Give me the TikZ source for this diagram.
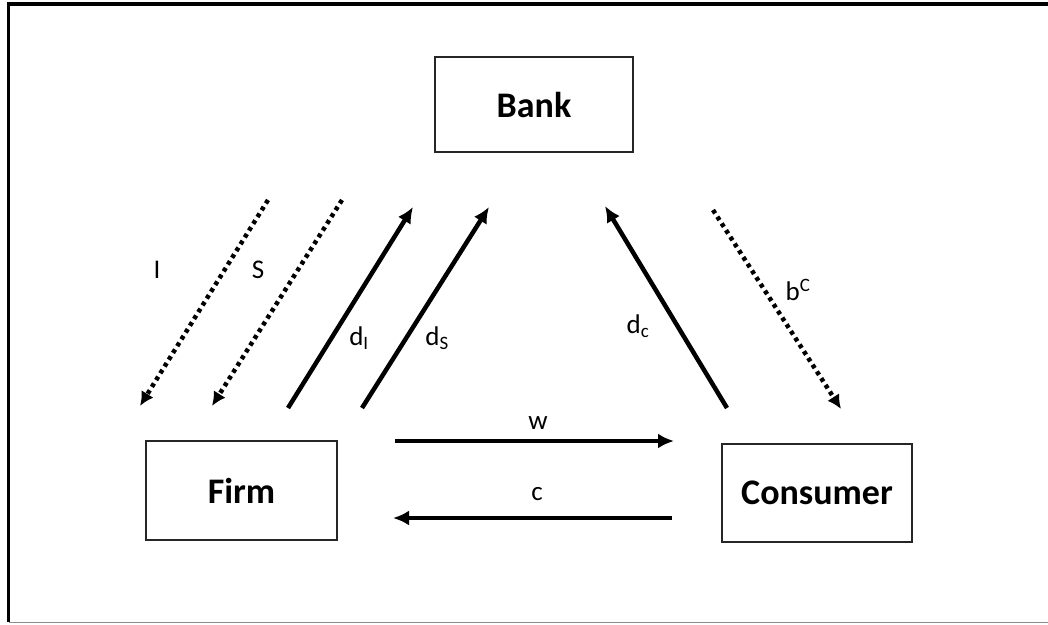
\documentclass[tikz,border=0pt]{standalone}
\usepackage{fontspec}
\setmainfont{Carlito}
\usetikzlibrary{arrows.meta}

\begin{document}
\begin{tikzpicture}[x=1pt,y=-1pt]

                \tikzset{box/.style = {shape=rectangle,draw=black!85,line width=1.3pt,inner sep=0pt,font=\fontsize{36}{40}\selectfont\bfseries}}
                \tikzset{flow/.style = {-{Latex[length=16pt,width=15pt]},line width=4.5pt}}
                \tikzset{loan/.style = {-{Latex[length=14pt,width=14pt]},line width=4.5pt,dash pattern=on 4pt off 4pt}}
                \tikzset{lab/.style = {inner sep=0pt,font=\fontsize{27}{30}\selectfont}}

                \useasboundingbox (0,0) rectangle (1048,624);
                \draw[line width=3.5pt] (8.5,622) -- (8.5,4) -- (1048,4);
                \draw[black!45,line width=1pt] (8.5,622.5) -- (1048,622.5);

                \node[box,minimum width=198pt,minimum height=95pt] (bank) at (534,104.5) {Bank};
                \node[box,minimum width=191pt,minimum height=99pt] (firm) at (241.5,490.5) {Firm};
                \node[box,minimum width=190pt,minimum height=98pt] (cons) at (817,493) {Consumer};

                \coordinate (i1) at (268,200);
                \coordinate (i2) at (140,406);
                \coordinate (s1) at (342,200);
                \coordinate (s2) at (212,406);
                \coordinate (di1) at (288,408);
                \coordinate (di2) at (413,207);
                \coordinate (ds1) at (362,408);
                \coordinate (ds2) at (489,207);
                \coordinate (dc1) at (727,408);
                \coordinate (dc2) at (605,206);
                \coordinate (bc1) at (713,210);
                \coordinate (bc2) at (841,409);
                \coordinate (w1) at (395,441);
                \coordinate (w2) at (674,441);
                \coordinate (c1) at (672,518);
                \coordinate (c2) at (393,518);

                \draw[loan] (i1) -- (i2);
                \draw[loan] (s1) -- (s2);
                \draw[flow] (di1) -- (di2);
                \draw[flow] (ds1) -- (ds2);
                \draw[flow] (dc1) -- (dc2);
                \draw[loan] (bc1) -- (bc2);
                \draw[flow] (w1) -- (w2);
                \draw[flow] (c1) -- (c2);

                \node[lab] (li) at (157,270) {I};
                \node[lab] (ls) at (258,270) {S};
                \node[lab] (ldi) at (359,338) {d\textsubscript{I}};
                \node[lab] (lds) at (437,338) {d\textsubscript{S}};
                \node[lab] (ldc) at (638,326) {d\textsubscript{c}};
                \node[lab] (lbc) at (798,290) {b\textsuperscript{C}};
                \node[lab] (lw) at (538,423) {w};
                \node[lab] (lc) at (537,494) {c};

\end{tikzpicture}
\end{document}
